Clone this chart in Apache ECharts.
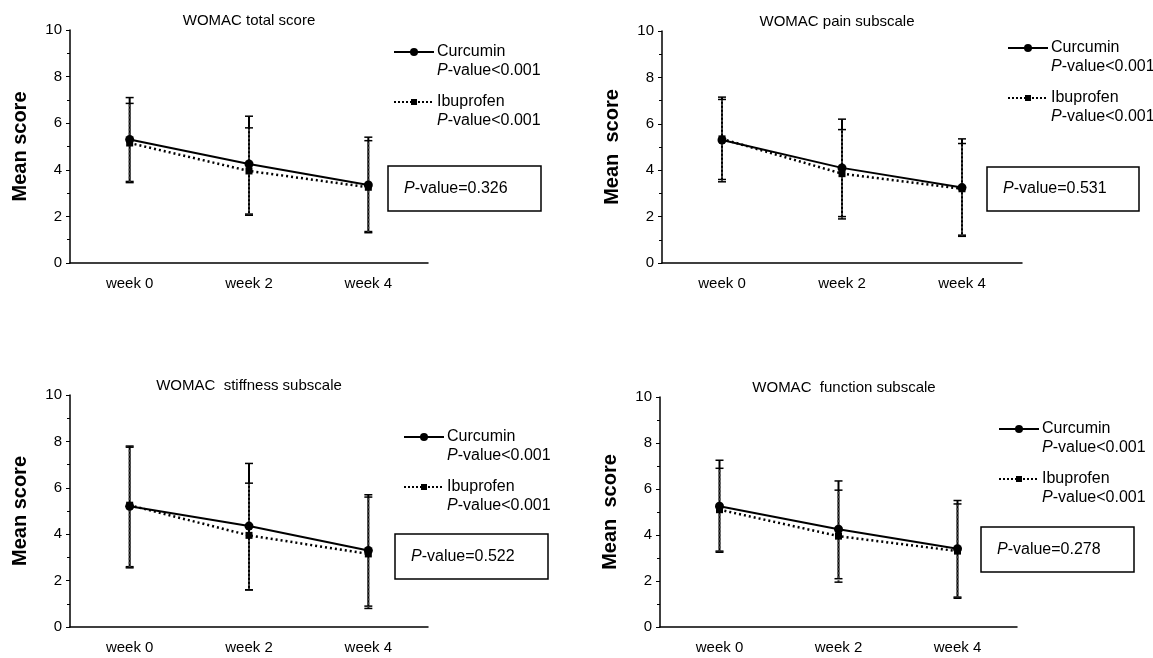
<!DOCTYPE html>
<html>
<head>
<meta charset="utf-8">
<script src="https://cdn.jsdelivr.net/npm/echarts@6/dist/echarts.min.js"></script>
<style>
  html, body { margin: 0; padding: 0; background: #fff; }
  #chart { width: 1153px; height: 658px; }
</style>
</head>
<body>
<div id="chart"></div>
<script>
const weeks = ['week 0', 'week 2', 'week 4'];
const titles = ['WOMAC total score', 'WOMAC pain subscale', 'WOMAC  stiffness subscale', 'WOMAC  function subscale'];
const yNames = ['Mean score', 'Mean  score', 'Mean score', 'Mean  score'];
const pValues = ['0.326', '0.531', '0.522', '0.278'];

// mean values per panel
const curcumin = [[5.3, 4.25, 3.35], [5.3, 4.1, 3.25], [5.2, 4.35, 3.3], [5.25, 4.25, 3.4]];
const ibuprofen = [[5.15, 3.95, 3.25], [5.35, 3.85, 3.2], [5.25, 3.95, 3.15], [5.1, 3.95, 3.3]];
// error bar ends [low, high]
const curcuminErr = [
  [[3.5, 7.1], [2.1, 6.3], [1.35, 5.4]],
  [[3.6, 7.15], [2.0, 6.2], [1.2, 5.35]],
  [[2.6, 7.8], [1.6, 7.05], [0.9, 5.7]],
  [[3.3, 7.25], [2.1, 6.35], [1.3, 5.5]]
];
const ibuprofenErr = [
  [[3.45, 6.85], [2.05, 5.8], [1.3, 5.25]],
  [[3.5, 7.05], [1.9, 5.75], [1.15, 5.15]],
  [[2.55, 7.75], [1.6, 6.2], [0.8, 5.6]],
  [[3.25, 6.9], [1.95, 5.95], [1.25, 5.35]]
];

// panel layout
const panels = [
  { left: 70, top: 30, width: 358, height: 233, titleX: 244, legX: 394, legY: 52, box: [388, 166, 153, 45] },
  { left: 662, top: 31, width: 360, height: 232, titleX: 832, legX: 1008, legY: 48, box: [987, 167, 152, 44] },
  { left: 70, top: 395, width: 358, height: 232, titleX: 244, legX: 404, legY: 437, box: [395, 534, 153, 45] },
  { left: 660, top: 397, width: 357, height: 230, titleX: 839, legX: 999, legY: 429, box: [981, 527, 153, 45] }
];

const font = 'Liberation Sans, Arial, sans-serif';
const chart = echarts.init(document.getElementById('chart'));

function errorSeries(i, errs, dotted) {
  return {
    type: 'custom',
    xAxisIndex: i,
    yAxisIndex: i,
    z: dotted ? 3 : 2,
    data: errs.map((e, k) => [k, e[0], e[1]]),
    renderItem: function (params, api) {
      const lo = api.coord([api.value(0), api.value(1)]);
      const hi = api.coord([api.value(0), api.value(2)]);
      const style = { stroke: dotted ? '#444' : '#000', lineWidth: 2, lineDash: dotted ? [2, 2] : null };
      const cap = 4;
      return {
        type: 'group',
        children: [
          { type: 'line', shape: { x1: lo[0], y1: lo[1], x2: hi[0], y2: hi[1] }, style: style },
          { type: 'line', shape: { x1: lo[0] - cap, y1: lo[1], x2: lo[0] + cap, y2: lo[1] }, style: { stroke: '#000', lineWidth: 1.5 } },
          { type: 'line', shape: { x1: hi[0] - cap, y1: hi[1], x2: hi[0] + cap, y2: hi[1] }, style: { stroke: '#000', lineWidth: 1.5 } }
        ]
      };
    }
  };
}

const grids = [], xAxes = [], yAxes = [], series = [], titleList = [], graphics = [];

panels.forEach((p, i) => {
  grids.push({ left: p.left, top: p.top, width: p.width, height: p.height });
  xAxes.push({
    type: 'category', gridIndex: i, data: weeks,
    axisLine: { lineStyle: { color: '#000', width: 1.5 } },
    axisTick: { alignWithLabel: true, length: 4, lineStyle: { color: '#000' } },
    axisLabel: { color: '#000', fontFamily: font, fontSize: 15, margin: 13 }
  });
  yAxes.push({
    type: 'value', gridIndex: i, min: 0, max: 10, interval: 2,
    name: yNames[i], nameLocation: 'middle', nameGap: 40,
    nameTextStyle: { color: '#000', fontFamily: font, fontSize: 20, fontWeight: 'bold' },
    axisLine: { show: true, lineStyle: { color: '#000', width: 1.5 } },
    axisTick: { show: true, length: 4, lineStyle: { color: '#000' } },
    minorTick: { show: true, splitNumber: 2, length: 3, lineStyle: { color: '#000' } },
    splitLine: { show: false },
    axisLabel: { color: '#000', fontFamily: font, fontSize: 15, margin: 8 }
  });
  series.push(errorSeries(i, curcuminErr[i], false));
  series.push(errorSeries(i, ibuprofenErr[i], true));
  series.push({
    name: 'Curcumin', type: 'line', xAxisIndex: i, yAxisIndex: i, data: curcumin[i],
    symbol: 'circle', symbolSize: 9, z: 5,
    lineStyle: { color: '#000', width: 2 }, itemStyle: { color: '#000' }
  });
  series.push({
    name: 'Ibuprofen', type: 'line', xAxisIndex: i, yAxisIndex: i, data: ibuprofen[i],
    symbol: 'rect', symbolSize: 7, z: 4,
    lineStyle: { color: '#000', width: 2.5, type: [2, 3] }, itemStyle: { color: '#000' }
  });
  titleList.push({
    text: titles[i], left: p.titleX, top: p.top - 22, textAlign: 'center',
    textStyle: { color: '#000', fontFamily: font, fontSize: 15, fontWeight: 'normal' }
  });

  // legend samples and labels
  const lx = p.legX, ly = p.legY, tx = lx + 43;
  const txt = { fill: '#000', font: '16px ' + font, textVerticalAlign: 'middle' };
  const rich = { i: { fontStyle: 'italic', fontSize: 16, fontFamily: font, fill: '#000' }, n: { fontSize: 16, fontFamily: font, fill: '#000' } };
  graphics.push(
    { type: 'line', shape: { x1: lx, y1: ly, x2: lx + 40, y2: ly }, style: { stroke: '#000', lineWidth: 2 } },
    { type: 'circle', shape: { cx: lx + 20, cy: ly, r: 4 }, style: { fill: '#000' } },
    { type: 'text', x: tx, y: ly, style: Object.assign({ text: 'Curcumin' }, txt) },
    { type: 'text', x: tx, y: ly + 19, style: { text: '{i|P}{n|-value<0.001}', rich: rich, verticalAlign: 'middle' } },
    { type: 'line', shape: { x1: lx, y1: ly + 50, x2: lx + 40, y2: ly + 50 }, style: { stroke: '#000', lineWidth: 2, lineDash: [2, 2] } },
    { type: 'rect', shape: { x: lx + 17, y: ly + 47, width: 6, height: 6 }, style: { fill: '#000' } },
    { type: 'text', x: tx, y: ly + 50, style: Object.assign({ text: 'Ibuprofen' }, txt) },
    { type: 'text', x: tx, y: ly + 69, style: { text: '{i|P}{n|-value<0.001}', rich: rich, verticalAlign: 'middle' } },
    { type: 'rect', shape: { x: p.box[0], y: p.box[1], width: p.box[2], height: p.box[3] }, style: { fill: 'none', stroke: '#000', lineWidth: 1.5 } },
    { type: 'text', x: p.box[0] + 16, y: p.box[1] + p.box[3] / 2, style: { text: '{i|P}{n|-value=' + pValues[i] + '}', rich: rich, verticalAlign: 'middle' } }
  );
});

chart.setOption({
  backgroundColor: '#fff',
  animation: false,
  title: titleList,
  grid: grids,
  xAxis: xAxes,
  yAxis: yAxes,
  series: series,
  graphic: graphics
});
</script>
</body>
</html>
